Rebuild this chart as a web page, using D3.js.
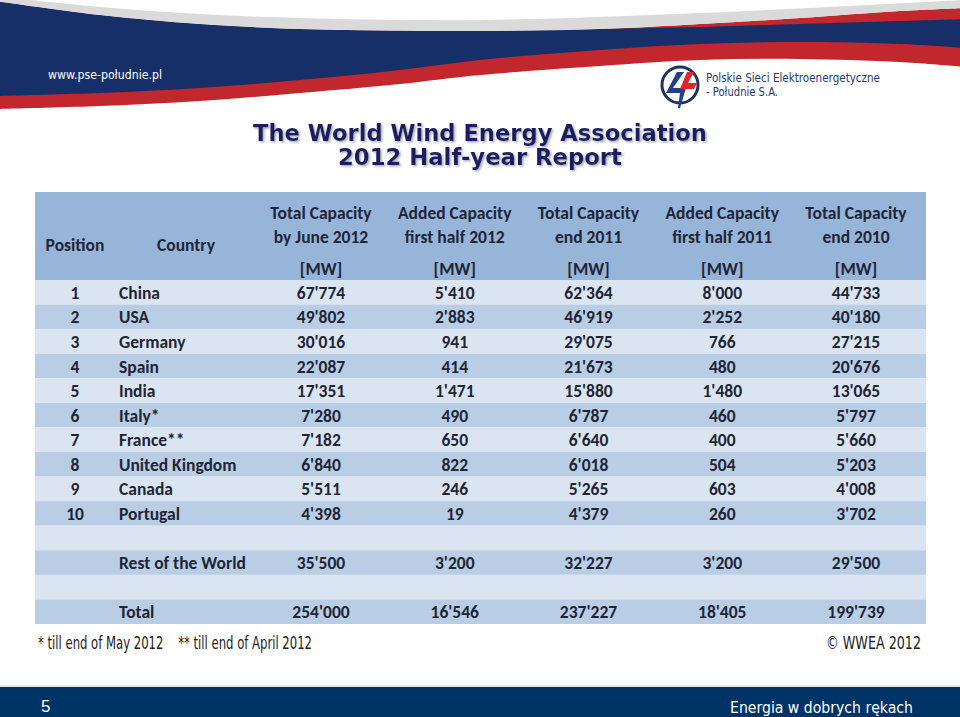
<!DOCTYPE html>
<html><head><meta charset="utf-8">
<script src="https://cdn.jsdelivr.net/npm/d3@7"></script>
<style>body{margin:0;background:#fff}svg{display:block}</style>
</head><body>
<svg id="c" width="960" height="717"></svg>
<script>
// ---------- DATA ----------
const columnHeadLine1 = ["Total Capacity","Added Capacity","Total Capacity","Added Capacity","Total Capacity"];
const columnHeadLine2 = ["by June 2012","first half 2012","end 2011","first half 2011","end 2010"];
const unitLabel = "[MW]";
const positions = [1,2,3,4,5,6,7,8,9,10];
const countries = ["China","USA","Germany","Spain","India","Italy*","France**","United Kingdom","Canada","Portugal"];
const totalJune2012 = [67774,49802,30016,22087,17351,7280,7182,6840,5511,4398];
const addedFirstHalf2012 = [5410,2883,941,414,1471,490,650,822,246,19];
const totalEnd2011 = [62364,46919,29075,21673,15880,6787,6640,6018,5265,4379];
const addedFirstHalf2011 = [8000,2252,766,480,1480,460,400,504,603,260];
const totalEnd2010 = [44733,40180,27215,20676,13065,5797,5660,5203,4008,3702];
const restOfWorld = [35500,3200,32227,3200,29500];
const worldTotal = [254000,16546,237227,18405,199739];

// ---------- BUILD ----------
const svg = d3.select("#c");
const defs = svg.append("defs");
const f = defs.append("filter").attr("id","shadow").attr("x","-5%").attr("y","-20%").attr("width","110%").attr("height","150%");
f.append("feDropShadow").attr("dx",1.5).attr("dy",1.5).attr("stdDeviation",0.8).attr("flood-color","#9aa0b4").attr("flood-opacity",0.9);

const fmt = d3.formatLocale({decimal:".", thousands:"'", grouping:[3], currency:["",""]}).format(",d");
const series = [totalJune2012, addedFirstHalf2012, totalEnd2011, addedFirstHalf2011, totalEnd2010];
const rows = [];
countries.forEach((c,i)=>rows.push({pos:positions[i], name:c, vals:series.map(s=>s[i])}));
rows.push({pos:"", name:"", vals:null});
rows.push({pos:"", name:"Rest of the World", vals:restOfWorld});
rows.push({pos:"", name:"", vals:null});
rows.push({pos:"", name:"Total", vals:worldTotal});

const navy="#172f68", red="#c1272d", gray="#d9dad9";

// ---------- TOP BANNER ----------
const curve = d3.line().curve(d3.curveCatmullRom);
function band(top, bottom){ return curve(top) + "L" + curve(bottom.slice().reverse()).slice(1) + "Z"; }
const W  = [[-5,-4],[100,7],[200,14],[300,18],[480,20],[700,13],[965,0]];
const G  = [[-5,1],[100,15],[200,24],[300,29],[480,31],[600,29],[700,24],[800,18],[900,11],[965,8]];
const N0 = [[-5,1],[100,15],[200,24],[300,29],[480,31],[600,29],[700,27],[800,24],[900,21],[965,19]];
const N  = [[-5,96],[100,93],[200,88],[300,80],[400,70],[480,60],[600,50],[700,44],[800,42],[900,44],[965,48]];
const R  = [[-5,109],[100,106],[200,101],[300,93],[400,84],[480,75],[600,66],[700,60],[800,59],[900,62],[965,67]];
svg.append("path").attr("d", band(G,R)).attr("fill", red);
svg.append("path").attr("d", band(N0,N)).attr("fill", navy);
svg.append("path").attr("d", band(W,G)).attr("fill", gray);

svg.append("text").attr("x",48).attr("y",79).text("www.pse-południe.pl")
  .attr("fill","#fff").attr("font-family","DejaVu Sans").attr("font-size",12)
  .attr("textLength",114).attr("lengthAdjust","spacingAndGlyphs");

// logo
const lg = svg.append("g");
lg.append("circle").attr("cx",680).attr("cy",85).attr("r",18).attr("fill","#fff").attr("stroke","#1d3463").attr("stroke-width",3);
lg.append("path").attr("d","M677 72 L684 72 L673 88 L686 88 L680 108 L678 108 L680 93 L666 93 Z").attr("fill","#213f8a");
lg.append("path").attr("d","M687 72 L694 72 L688 83 L697 83 L694 89 L680 89 Z").attr("fill","#e3262b");
svg.append("text").attr("x",706).attr("y",82).text("Polskie Sieci Elektroenergetyczne")
  .attr("fill","#1e3a70").attr("font-family","DejaVu Sans").attr("font-size",12)
  .attr("textLength",174).attr("lengthAdjust","spacingAndGlyphs");
svg.append("text").attr("x",706).attr("y",96).text("- Południe S.A.")
  .attr("fill","#1e3a70").attr("font-family","DejaVu Sans").attr("font-size",12)
  .attr("textLength",72).attr("lengthAdjust","spacingAndGlyphs");

// ---------- TITLE ----------
const titleLines = ["The World Wind Energy Association","2012 Half-year Report"];
const tY = [141,165];
const titleWidths = [454, 284];
titleLines.forEach((t,i)=>{
  const el = svg.append("text").attr("x",480).attr("y",tY[i]).attr("text-anchor","middle").text(t)
    .attr("font-family","DejaVu Sans").attr("font-weight","bold").attr("font-size",22).attr("fill","#1b1f5e")
    .attr("filter","url(#shadow)");
  const w = el.node().getComputedTextLength();
  el.attr("font-size", 22*titleWidths[i]/w);
});

// ---------- TABLE ----------
const tableLeft=35, tableRight=926;
const headTop=192, headBottom=280;
const y = d3.scaleBand().domain(d3.range(rows.length)).range([headBottom, 624]).padding(0);
const x = d3.scalePoint().domain(d3.range(5)).range([321, 856]);
const posX = 75, nameX = 119;
const tf = "Carlito, Lato, 'Open Sans', sans-serif";
const tcol = "#1d2536";
const fs = 17.5;

svg.append("rect").attr("x",tableLeft).attr("y",headTop).attr("width",tableRight-tableLeft).attr("height",headBottom-headTop).attr("fill","#97b4d9");
svg.selectAll("rect.row").data(rows).join("rect").attr("class","row")
  .attr("x",tableLeft).attr("y",(d,i)=>y(i)).attr("width",tableRight-tableLeft).attr("height",y.bandwidth())
  .attr("fill",(d,i)=> i%2===0 ? "#dbe5f1" : "#b9cde5");

const ht = svg.append("g").attr("font-family",tf).attr("font-weight","bold").attr("font-size",fs).attr("fill",tcol).attr("text-anchor","middle");
ht.append("text").attr("x",posX).attr("y",251).text("Position");
ht.append("text").attr("x",186).attr("y",251).text("Country");
columnHeadLine1.forEach((t,i)=>{
  ht.append("text").attr("x",x(i)).attr("y",219).text(t);
  ht.append("text").attr("x",x(i)).attr("y",243).text(columnHeadLine2[i]);
  ht.append("text").attr("x",x(i)).attr("y",275).text(unitLabel);
});

const body = svg.append("g").attr("font-family",tf).attr("font-weight","bold").attr("font-size",fs).attr("fill",tcol);
rows.forEach((r,i)=>{
  const by = y(i) + y.bandwidth()/2 + 6.5;
  body.append("text").attr("x",posX).attr("y",by).attr("text-anchor","middle").text(r.pos);
  body.append("text").attr("x",nameX).attr("y",by).text(r.name);
  if(r.vals) r.vals.forEach((v,j)=>{
    body.append("text").attr("x",x(j)).attr("y",by).attr("text-anchor","middle").text(fmt(v));
  });
});

// ---------- FOOTNOTES ----------
const nf = "'Liberation Sans Narrow', 'DejaVu Sans Condensed', sans-serif";
svg.append("text").attr("x",38).attr("y",649)
  .attr("font-family",nf).attr("font-size",17).attr("fill","#222")
  .attr("textLength",274).attr("lengthAdjust","spacingAndGlyphs")
  .text("* till end of May 2012\u00a0\u00a0\u00a0\u00a0** till end of April 2012");
svg.append("text").attr("x",826).attr("y",649).text("© WWEA 2012")
  .attr("font-family",nf).attr("font-size",18).attr("fill","#222")
  .attr("textLength",95).attr("lengthAdjust","spacingAndGlyphs");

// ---------- FOOTER ----------
svg.append("rect").attr("x",0).attr("y",685).attr("width",960).attr("height",2).attr("fill","#e4e7ec");
svg.append("rect").attr("x",0).attr("y",687).attr("width",960).attr("height",30).attr("fill","#003366");
svg.append("text").attr("x",41).attr("y",712).text("5").attr("fill","#fff").attr("font-family","Liberation Sans, Arial").attr("font-size",17);
svg.append("text").attr("x",730).attr("y",713).text("Energia w dobrych rękach")
  .attr("fill","#fff").attr("font-family","DejaVu Sans").attr("font-size",15)
  .attr("textLength",183).attr("lengthAdjust","spacingAndGlyphs");
</script>
</body></html>
